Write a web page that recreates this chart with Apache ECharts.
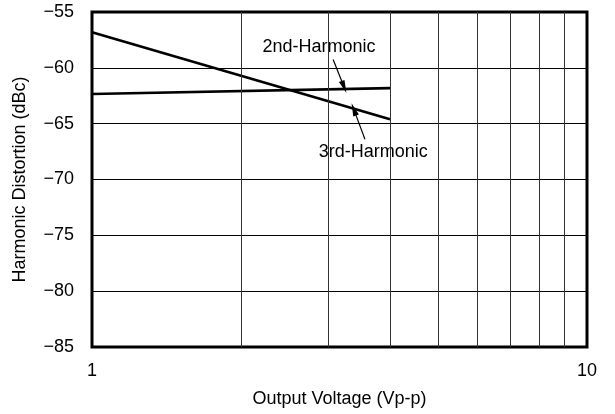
<!DOCTYPE html>
<html>
<head>
<meta charset="utf-8">
<script src="https://cdn.jsdelivr.net/npm/echarts@6/dist/echarts.min.js"></script>
<style>
  html, body { margin: 0; padding: 0; background: #fff; }
  #chart { width: 615px; height: 414px; }
</style>
</head>
<body>
<div id="chart"></div>
<script>
// Output voltage (Vp-p) sample points and distortion levels (dBc)
var voltage = [1, 4];
var secondHarmonic = [-62.34, -61.82];
var thirdHarmonic = [-56.82, -64.6];

// Axis ranges and decade sub-divisions
var yTicks = [-85, -80, -75, -70, -65, -60, -55];
var minorDecade = [2, 3, 4, 5, 6, 7, 8, 9];

// Callout text with anchor (voltage, dBc) and arrow from/to points
var callouts = [
  { text: '2nd-Harmonic', at: [2.875, -58.14], from: [3.07, -59.25], to: [3.23, -61.72] },
  { text: '3rd-Harmonic', at: [3.70, -67.57], from: [3.56, -66.4], to: [3.38, -63.72] }
];

var FONT = '"Liberation Sans", Arial, Helvetica, sans-serif';

function pairs(xs, ys) {
  return xs.map(function (x, i) { return [x, ys[i]]; });
}

var chart = echarts.init(document.getElementById('chart'), null, { renderer: 'canvas' });

chart.setOption({
  backgroundColor: '#fff',
  animation: false,
  textStyle: { fontFamily: FONT },
  grid: {
    left: 92, right: 28, top: 12, bottom: 67,
    show: true, borderColor: '#000', borderWidth: 3,
    backgroundColor: 'transparent'
  },
  xAxis: {
    type: 'log', logBase: 10, min: 1, max: 10,
    name: 'Output Voltage (Vp-p)',
    nameLocation: 'middle', nameGap: 43,
    nameTextStyle: { fontSize: 18, color: '#000', fontFamily: FONT },
    axisLine: { show: false },
    axisTick: { show: false },
    splitLine: { show: false },
    axisLabel: {
      fontSize: 18, color: '#000', margin: 15, fontFamily: FONT,
      formatter: function (v) { return String(Math.round(v)); }
    }
  },
  yAxis: {
    type: 'value', min: yTicks[0], max: yTicks[yTicks.length - 1], interval: 5,
    name: 'Harmonic Distortion (dBc)',
    nameLocation: 'middle', nameGap: 63, nameRotate: 90,
    nameTextStyle: { fontSize: 18, color: '#000', fontFamily: FONT },
    axisLine: { show: false },
    axisTick: { show: false },
    splitLine: { show: true, lineStyle: { color: '#000', width: 1 } },
    axisLabel: {
      fontSize: 18, color: '#000', margin: 18, fontFamily: FONT,
      formatter: function (v) { return String(v).replace('-', '\u2212'); }
    }
  },
  series: [
    {
      // vertical grid lines at 2..9 within the decade
      type: 'line', data: [], z: 1, silent: true,
      markLine: {
        silent: true, symbol: ['none', 'none'], label: { show: false },
        lineStyle: { color: '#333', width: 1, type: 'solid' },
        data: minorDecade.map(function (v) { return { xAxis: v }; })
      }
    },
    {
      name: '2nd-Harmonic', type: 'line', z: 3,
      data: pairs(voltage, secondHarmonic),
      showSymbol: false, symbol: 'none',
      lineStyle: { color: '#000', width: 2.6 }
    },
    {
      name: '3rd-Harmonic', type: 'line', z: 3,
      data: pairs(voltage, thirdHarmonic),
      showSymbol: false, symbol: 'none',
      lineStyle: { color: '#000', width: 2.6 }
    },
    {
      // callout labels and their arrows
      type: 'scatter', z: 4, silent: true,
      symbolSize: 0,
      itemStyle: { color: '#000', opacity: 1 },
      data: callouts.map(function (c) { return { value: c.at, name: c.text }; }),
      label: {
        show: true, position: 'inside', color: '#000',
        textBorderWidth: 0, textBorderColor: 'transparent', opacity: 1,
        fontSize: 18, fontFamily: FONT,
        formatter: function (p) { return p.name; }
      },
      markLine: {
        silent: true, symbol: ['none', 'triangle'], symbolSize: [6, 13],
        label: { show: false },
        lineStyle: { color: '#000', width: 1.2, type: 'solid', opacity: 1 },
        itemStyle: { color: '#000' },
        data: callouts.map(function (c) {
          return [{ coord: c.from }, { coord: c.to }];
        })
      }
    }
  ]
});
</script>
</body>
</html>
